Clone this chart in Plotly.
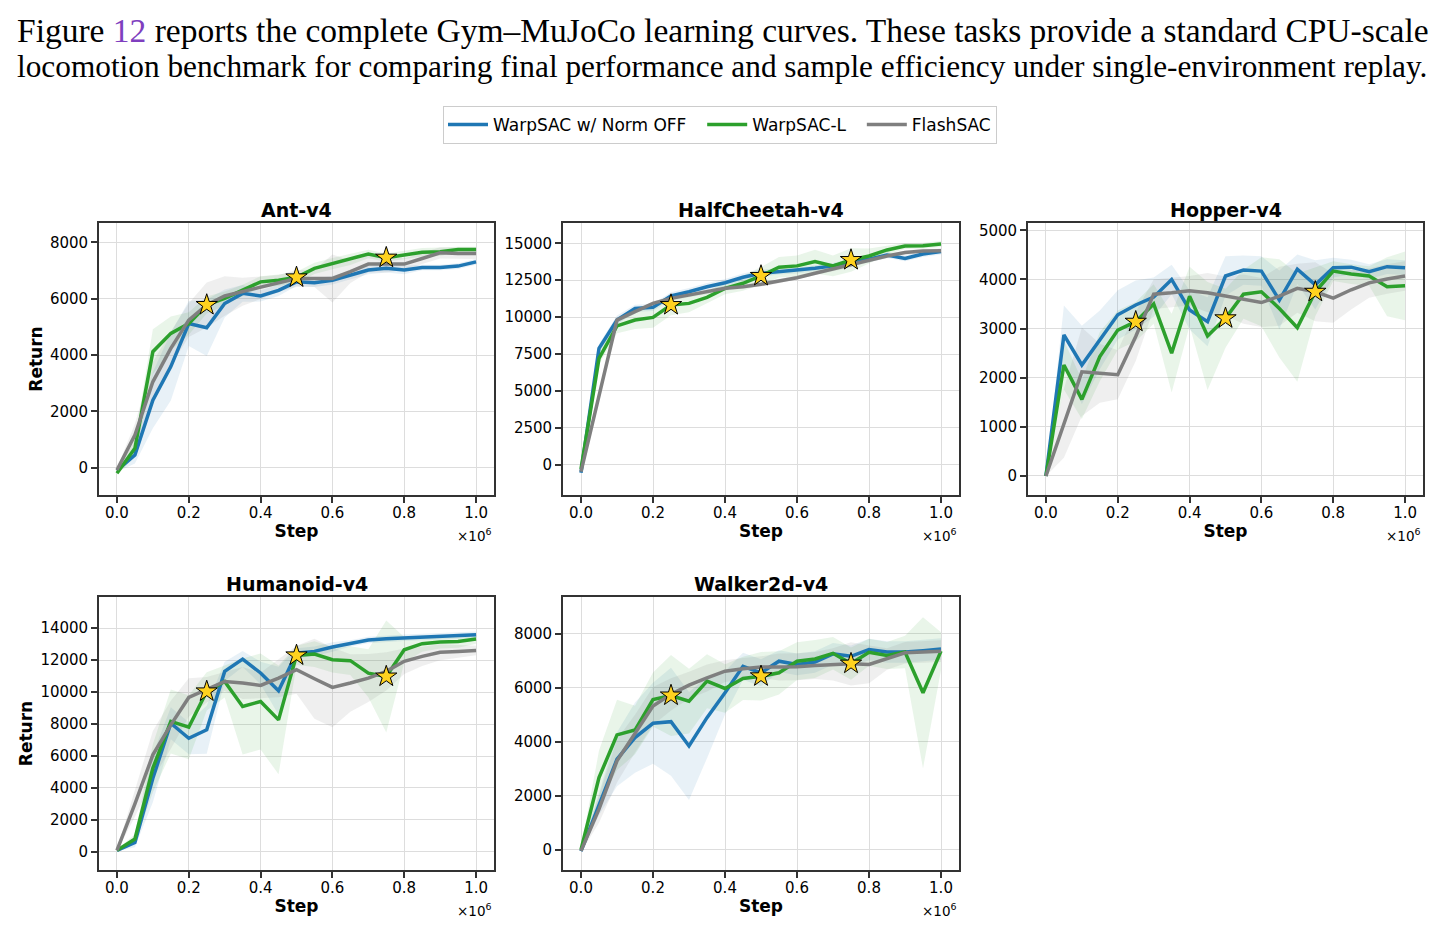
import numpy as np
import plotly.graph_objects as go
from plotly.subplots import make_subplots

# training steps (x 1e6)
steps = [0.0, 0.05, 0.10, 0.15, 0.20, 0.25, 0.30, 0.35, 0.40, 0.45, 0.50,
         0.55, 0.60, 0.65, 0.70, 0.75, 0.80, 0.85, 0.90, 0.95, 1.0]
star_idx = [5, 10, 15]  # 0.25M, 0.5M, 0.75M checkpoints on WarpSAC-L

series_names = ["WarpSAC w/ Norm OFF", "WarpSAC-L", "FlashSAC"]
series_colors = ["#1f77b4", "#2ca02c", "#7f7f7f"]
fill_colors = ["rgba(31,119,180,0.10)", "rgba(44,160,44,0.10)", "rgba(127,127,127,0.12)"]

# ---- Ant-v4
ant_off = [-100, 450, 2400, 3590, 5120, 4970, 5830, 6190, 6100, 6300, 6600,
           6570, 6660, 6840, 7020, 7080, 7020, 7110, 7110, 7160, 7310]
ant_off_std = [50, 300, 1000, 1200, 800, 1000, 500, 300, 200, 200, 150,
               150, 150, 150, 150, 150, 150, 100, 100, 100, 100]
ant_l = [-200, 690, 4120, 4770, 5120, 5780, 6010, 6300, 6600, 6660, 6760,
         7080, 7250, 7400, 7590, 7460, 7550, 7650, 7670, 7750, 7750]
ant_l_std = [50, 300, 800, 600, 400, 300, 250, 200, 200, 200, 200,
             200, 200, 200, 150, 150, 150, 150, 150, 100, 100]
ant_flash = [-80, 1160, 3050, 4240, 5240, 5780, 6100, 6250, 6390, 6540, 6720,
             6720, 6720, 6960, 7230, 7230, 7230, 7430, 7630, 7610, 7610]
ant_flash_std = [50, 400, 700, 600, 600, 800, 700, 500, 400, 300, 300,
                 300, 850, 400, 300, 300, 200, 200, 200, 200, 200]

# ---- HalfCheetah-v4
hc_off = [-540, 7880, 9800, 10590, 10660, 11430, 11720, 12060, 12330, 12700, 12970,
          13080, 13150, 13310, 13470, 13760, 13920, 14210, 13980, 14280, 14440]
hc_off_std = [100, 300, 300, 250, 250, 250, 250, 250, 250, 250, 250,
              200, 200, 200, 200, 200, 200, 200, 200, 200, 200]
hc_l = [-300, 7200, 9400, 9800, 9980, 10820, 10930, 11340, 11950, 12290, 12790,
        13380, 13470, 13760, 13470, 13870, 14140, 14550, 14820, 14840, 14950]
hc_l_std = [100, 400, 500, 600, 700, 700, 600, 400, 400, 500, 600,
            700, 700, 800, 700, 800, 500, 300, 200, 200, 200]
hc_flash = [-470, 4720, 9800, 10370, 10930, 11270, 11500, 11720, 11950, 12060, 12220,
            12450, 12670, 12970, 13260, 13530, 13870, 14140, 14370, 14480, 14500]
hc_flash_std = [100, 200, 200, 150, 150, 150, 150, 150, 150, 150, 150,
                150, 150, 150, 150, 150, 150, 150, 150, 150, 150]

# ---- Hopper-v4
hop_off = [0, 2870, 2260, 2770, 3280, 3480, 3640, 4000, 3380, 3140, 4070,
           4190, 4170, 3580, 4210, 3890, 4240, 4250, 4160, 4260, 4240]
hop_off_std = [0, 600, 800, 600, 500, 500, 400, 300, 400, 500, 400,
               300, 300, 600, 300, 500, 200, 150, 150, 150, 150]
hop_l = [0, 2260, 1560, 2430, 2970, 3140, 3500, 2500, 3660, 2850, 3210,
         3700, 3750, 3410, 3020, 3750, 4170, 4110, 4070, 3850, 3870]
hop_l_std = [0, 500, 400, 500, 400, 400, 400, 800, 600, 1100, 600,
             500, 700, 1000, 1100, 500, 200, 200, 200, 600, 700]
hop_flash = [0, 1070, 2120, 2090, 2060, 2840, 3700, 3730, 3770, 3730, 3660,
             3600, 3530, 3660, 3820, 3750, 3620, 3790, 3930, 4010, 4070]
hop_flash_std = [0, 700, 900, 600, 500, 500, 300, 300, 300, 400, 400,
                 500, 500, 600, 500, 600, 500, 400, 300, 300, 300]

# ---- Humanoid-v4
hum_off = [100, 600, 4610, 8050, 7110, 7640, 11290, 12060, 11190, 10080, 12430,
           12540, 12810, 13040, 13250, 13330, 13390, 13440, 13480, 13520, 13580]
hum_off_std = [50, 300, 1500, 1000, 1000, 1500, 600, 500, 700, 1500, 300,
               300, 300, 200, 200, 200, 200, 200, 200, 200, 200]
hum_l = [100, 810, 5240, 8160, 7800, 10040, 10660, 9100, 9410, 8260, 12290,
         12370, 12020, 11960, 11180, 10970, 12640, 13020, 13120, 13160, 13310]
hum_l_std = [50, 300, 1500, 2000, 2000, 1200, 1000, 3000, 3000, 3400, 600,
             800, 800, 900, 1500, 3500, 800, 500, 400, 400, 300]
hum_flash = [100, 3000, 6070, 7950, 9660, 10140, 10660, 10560, 10410, 10870, 11390,
             10830, 10290, 10560, 10870, 11290, 11920, 12230, 12480, 12540, 12600]
hum_flash_std = [50, 800, 1500, 1500, 1200, 800, 600, 1000, 800, 1200, 1500,
                 2500, 2500, 1800, 1500, 1200, 800, 600, 500, 400, 300]

# ---- Walker2d-v4
wal_off = [-50, 1690, 3350, 4150, 4680, 4740, 3840, 4890, 5810, 6790, 6550,
           6980, 6860, 6950, 7250, 7160, 7410, 7320, 7320, 7370, 7430]
wal_off_std = [50, 400, 1000, 1300, 1500, 2000, 2000, 1500, 800, 500, 500,
               400, 400, 400, 400, 400, 400, 400, 400, 400, 400]
wal_l = [0, 2670, 4250, 4430, 5560, 5710, 5500, 6240, 5970, 6340, 6420,
         6550, 6980, 7060, 7270, 6890, 7310, 7190, 7320, 5810, 7350]
wal_l_std = [50, 1000, 1300, 900, 1000, 1500, 1200, 1000, 900, 800, 900,
             800, 700, 700, 600, 600, 500, 500, 600, 2800, 700]
wal_flash = [-40, 1500, 3290, 4300, 5320, 5750, 6090, 6360, 6610, 6700, 6760,
             6760, 6770, 6820, 6860, 6880, 6860, 7060, 7290, 7320, 7350]
wal_flash_std = [50, 500, 800, 700, 700, 600, 500, 500, 400, 400, 400,
                 500, 500, 500, 600, 800, 700, 400, 400, 400, 400]

panels = [
    ("Ant-v4", 1, 1, [ant_off, ant_l, ant_flash], [ant_off_std, ant_l_std, ant_flash_std], [-970, 8690], 2000),
    ("HalfCheetah-v4", 1, 2, [hc_off, hc_l, hc_flash], [hc_off_std, hc_l_std, hc_flash_std], [-2054, 16376], 2500),
    ("Hopper-v4", 1, 3, [hop_off, hop_l, hop_flash], [hop_off_std, hop_l_std, hop_flash_std], [-387, 5149], 1000),
    ("Humanoid-v4", 2, 1, [hum_off, hum_l, hum_flash], [hum_off_std, hum_l_std, hum_flash_std], [-1127, 15940], 2000),
    ("Walker2d-v4", 2, 2, [wal_off, wal_l, wal_flash], [wal_off_std, wal_l_std, wal_flash_std], [-750, 9355], 2000),
]

# the page body has an 8px margin, so the figure is a bit smaller than the window
OFF = 8
W, H = 1448 - 2 * OFF, 940 - 2 * OFF


def px_x(p):
    return (p - OFF) / W


def px_y(p):
    return 1 - (p - OFF) / H


col_px = {1: (99, 494), 2: (563, 959), 3: (1028, 1423)}
row_px = {1: (223, 495), 2: (597, 870)}

# legend labels padded a little so the entries spread like the original
legend_labels = [series_names[0] + "\u00a0\u00a0", series_names[1] + "\u00a0\u00a0", series_names[2]]

fig = make_subplots(rows=2, cols=3, specs=[[{}, {}, {}], [{}, {}, None]])

x = np.array(steps)
for k, (name, r, c, means, stds, yrange, dtick) in enumerate(panels):
    # shaded bands first
    for i in range(3):
        m = np.array(means[i], dtype=float)
        s = np.array(stds[i], dtype=float)
        fig.add_trace(go.Scatter(
            x=np.concatenate([x, x[::-1]]), y=np.concatenate([m + s, (m - s)[::-1]]),
            fill="toself", fillcolor=fill_colors[i], line=dict(width=0),
            mode="lines", hoverinfo="skip", showlegend=False), row=r, col=c)
    for i in range(3):
        fig.add_trace(go.Scatter(
            x=steps, y=means[i], mode="lines", name=legend_labels[i],
            line=dict(color=series_colors[i], width=3.5),
            legendgroup=series_names[i], showlegend=(k == 0)), row=r, col=c)
    fig.add_trace(go.Scatter(
        x=[steps[j] for j in star_idx], y=[means[1][j] for j in star_idx],
        mode="markers", showlegend=False,
        marker=dict(symbol="star", size=16, color="#FFD21F",
                    line=dict(color="black", width=1))), row=r, col=c)

    x0, x1 = col_px[c]
    y0, y1 = row_px[r]
    xd = [px_x(x0), px_x(x1)]
    yd = [px_y(y1), px_y(y0)]
    fig.update_xaxes(domain=xd, range=[-0.05, 1.05], dtick=0.2, tickformat=".1f",
                     ticklabelstandoff=-3,
                     title=dict(text="<b>Step</b>", font=dict(size=17), standoff=4),
                     row=r, col=c)
    fig.update_yaxes(domain=yd, range=yrange, dtick=dtick, tickformat="d", row=r, col=c,
                     title=dict(text="<b>Return</b>" if c == 1 else "", font=dict(size=17), standoff=3))
    fig.add_annotation(text="<b>%s</b>" % name, x=(xd[0] + xd[1]) / 2, y=yd[1],
                       xref="paper", yref="paper", xanchor="center", yanchor="bottom",
                       yshift=0, showarrow=False, font=dict(size=19, color="black"))
    fig.add_annotation(text="×10<sup>6</sup>", x=xd[1], y=yd[0], xref="paper", yref="paper",
                       xanchor="right", yanchor="middle", yshift=-40, showarrow=False,
                       font=dict(size=13.5, color="black"))

axis_style = dict(showline=True, mirror=True, linecolor="#333333", linewidth=1.8,
                  ticks="outside", ticklen=6, tickwidth=1.5, tickcolor="#333333",
                  showgrid=True, gridcolor="#dddddd", gridwidth=1, zeroline=False,
                  tickfont=dict(size=15, color="black"))
fig.update_xaxes(**axis_style)
fig.update_yaxes(**axis_style)

# paragraph text above the figure
serif_family = "Liberation Serif, DejaVu Serif, serif"
fig.add_annotation(text="Figure <span style='color:#7f3fbf'>12</span> reports the complete Gym–MuJoCo "
                        "learning curves. These tasks provide a standard CPU-scale",
                   x=px_x(15), y=px_y(30), xref="paper", yref="paper", xanchor="left",
                   yanchor="middle", showarrow=False,
                   font=dict(family=serif_family, size=33.5, color="black"))
fig.add_annotation(text="locomotion benchmark for comparing final performance and sample "
                        "efficiency under single-environment replay.",
                   x=px_x(15), y=px_y(66), xref="paper", yref="paper", xanchor="left",
                   yanchor="middle", showarrow=False,
                   font=dict(family=serif_family, size=31.3, color="black"))

fig.update_layout(
    width=W, height=H, margin=dict(l=0, r=0, t=0, b=0),
    paper_bgcolor="white", plot_bgcolor="white",
    font=dict(family="DejaVu Sans", color="black"),
    legend=dict(orientation="h", x=px_x(720), xanchor="center", y=px_y(106), yanchor="top",
                bordercolor="#cccccc", borderwidth=1, font=dict(size=17),
                itemwidth=40),
)

fig.write_html("out.html")
